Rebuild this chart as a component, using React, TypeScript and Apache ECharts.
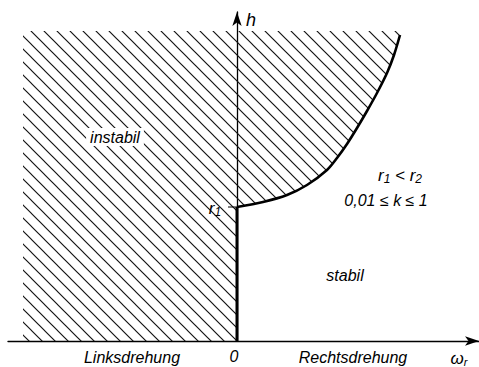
import React, { useEffect, useRef } from "react";
import * as echarts from "echarts";

// axis extents (ω_r horizontal, h vertical)
const omegaRange = [-2.29, 2.42];
const hRange = [0, 3.29];
// hatched (unstable) region bounds
const hatchLeft = -2.14;
const hatchTop = 3.1;
// r1 level on the h axis
const r1Level = 1.34;
// stability boundary curve (right half)
const curveOmega = [0, 0.26, 0.5, 0.7, 0.9, 1.0, 1.1, 1.2, 1.3, 1.4, 1.5, 1.57, 1.63];
const curveH = [1.34, 1.39, 1.46, 1.56, 1.71, 1.83, 1.97, 2.13, 2.3, 2.48, 2.68, 2.86, 3.06];
// texts
const axisTexts = ["Linksdrehung", "0", "Rechtsdrehung"];
const regionTexts = ["instabil", "stabil"];
const conditionText = "0,01 ≤ k ≤ 1";

const FONT = '"Liberation Sans", "DejaVu Sans", sans-serif';

function makeHatch(): HTMLCanvasElement {
  const s = 13;
  const c = document.createElement("canvas");
  c.width = s;
  c.height = s;
  const ctx = c.getContext("2d")!;
  ctx.strokeStyle = "#111";
  ctx.lineWidth = 1.15;
  for (let k = -1; k <= 1; k++) {
    ctx.beginPath();
    ctx.moveTo(-2, -2 + k * s);
    ctx.lineTo(s + 2, s + 2 + k * s);
    ctx.stroke();
  }
  return c;
}

export default function App() {
  const ref = useRef<HTMLDivElement>(null);
  useEffect(() => {
    if (!ref.current) return;
    const chart = echarts.init(ref.current, null, { renderer: "svg" });
    const hatch = makeHatch();
    const pattern: any = { image: hatch, repeat: "repeat", imageWidth: 13, imageHeight: 13 };

    const leftPoly = [
      [hatchLeft, 0],
      [hatchLeft, hatchTop],
      [0, hatchTop],
      [0, 0],
    ];
    const curve = curveOmega.map((w, i) => [w, curveH[i]]);
    const rightPoly = [[0, hatchTop], ...curve, [curveOmega[curveOmega.length - 1] + 0.02, hatchTop]];

    const polySeries = (poly: number[][]) => ({
      type: "custom",
      silent: true,
      z: 1,
      data: [[0, 0]],
      renderItem: (_p: any, api: any) => ({
        type: "polygon",
        shape: { points: poly.map((pt) => api.coord(pt)) },
        style: { fill: pattern, stroke: null },
      }),
    });

    const txt = (text: string, x: number, y: number, size = 16, extra: any = {}) => ({
      type: "text",
      x,
      y,
      z: 10,
      style: {
        text,
        fill: "#000",
        font: `italic ${size}px ${FONT}`,
        textAlign: "center",
        textVerticalAlign: "middle",
        ...extra,
      },
    });

    const subRich = {
      m: { font: `italic 17px ${FONT}`, fill: "#000" },
      s: { font: `italic 12px ${FONT}`, fill: "#000", padding: [7, 0, 0, 0] },
    };

    chart.setOption({
      animation: false,
      backgroundColor: "#fff",
      grid: { left: 8, right: 0, top: 12, bottom: 26 },
      xAxis: {
        type: "value",
        min: omegaRange[0],
        max: omegaRange[1],
        axisLine: {
          show: true,
          onZero: true,
          symbol: ["none", "arrow"],
          symbolSize: [7, 14],
          lineStyle: { color: "#000", width: 1.4 },
        },
        axisTick: { show: false },
        axisLabel: { show: false },
        splitLine: { show: false },
      },
      yAxis: {
        type: "value",
        min: hRange[0],
        max: hRange[1],
        axisLine: {
          show: true,
          onZero: true,
          symbol: ["none", "arrow"],
          symbolSize: [7, 14],
          lineStyle: { color: "#000", width: 1.3 },
        },
        axisTick: { show: false },
        axisLabel: { show: false },
        splitLine: { show: false },
      },
      series: [
        polySeries(leftPoly),
        polySeries(rightPoly),
        {
          type: "line",
          data: curve,
          smooth: 0.3,
          showSymbol: false,
          silent: true,
          z: 5,
          lineStyle: { color: "#000", width: 2.6 },
        },
        {
          type: "line",
          data: [
            [0, 0],
            [0, r1Level],
          ],
          showSymbol: false,
          silent: true,
          z: 5,
          lineStyle: { color: "#000", width: 3 },
        },
        {
          type: "line",
          data: [
            [-0.09, r1Level],
            [0, r1Level],
          ],
          showSymbol: false,
          silent: true,
          z: 5,
          lineStyle: { color: "#000", width: 1.2 },
        },
      ],
      graphic: [
        txt("h", 251, 20, 18),
        txt(regionTexts[0], 115, 137, 16, { backgroundColor: "#fff", padding: [1, 4, 1, 4] }),
        txt(regionTexts[1], 345, 275, 16),
        txt("{m|r}{s|1}{m| < r}{s|2}", 400, 175, 17, { rich: subRich }),
        txt(conditionText, 386, 200, 16),
        txt("{m|r}{s|1}", 215, 208, 17, { rich: subRich }),
        txt(axisTexts[0], 132, 357, 16),
        txt(axisTexts[1], 234, 356, 16),
        txt(axisTexts[2], 353, 357, 16),
        txt("{w|ω}{s|r}", 459, 358, 17, {
          rich: {
            w: { font: `italic 17px ${FONT}`, fill: "#000" },
            s: { font: `italic 11px ${FONT}`, fill: "#000", padding: [7, 0, 0, 0] },
          },
        }),
      ],
    });
    return () => chart.dispose();
  }, []);
  return (
    <div
      ref={ref}
      style={{ position: "fixed", left: 0, top: 0, width: 479, height: 367 }}
    />
  );
}
